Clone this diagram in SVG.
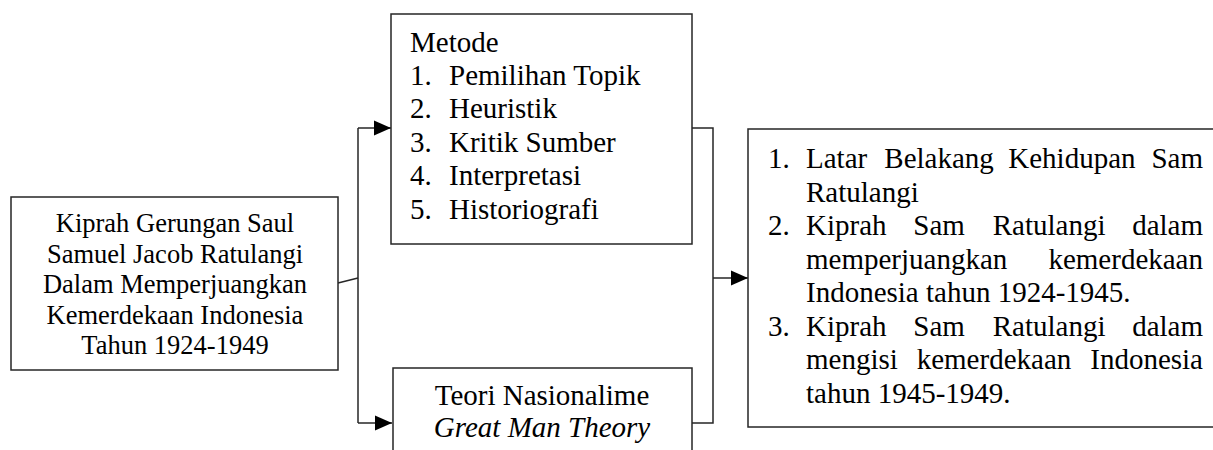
<svg xmlns="http://www.w3.org/2000/svg" width="1213" height="450" viewBox="0 0 1213 450">
<style>
.box{fill:#fff;stroke:#262626;stroke-width:1.5}
.ln{fill:none;stroke:#262626;stroke-width:1.5}
text{font-family:"Liberation Serif","Times New Roman",serif;fill:#000}
.s26{font-size:26.5px}
.s29{font-size:29px}
.c{text-anchor:middle}
.e{text-anchor:end}
</style>
<defs>
<marker id="arr" markerUnits="userSpaceOnUse" markerWidth="18" markerHeight="16" refX="17" refY="8" orient="auto">
<path d="M0,0.5 L17,8 L0,15.5 Z" fill="#000"/>
</marker>
</defs>
<rect width="1213" height="450" fill="#fff"/>
<g id="connectors">
<path class="ln" d="M338,283 L358,278"/>
<path class="ln" d="M358,128 L358,423"/>
<path class="ln" d="M358,128 L391,128" marker-end="url(#arr)"/>
<path class="ln" d="M358,423 L392,423" marker-end="url(#arr)"/>
<path class="ln" d="M692,128 L713,128 L713,423 L692,423"/>
<path class="ln" d="M713,278 L748,278" marker-end="url(#arr)"/>
</g>
<g id="node-topic">
<rect class="box" x="11" y="197" width="327" height="173"/>
<text class="s26 c" x="175" y="232">Kiprah Gerungan Saul</text>
<text class="s26 c" x="175" y="262.6">Samuel Jacob Ratulangi</text>
<text class="s26 c" x="175" y="293.2">Dalam Memperjuangkan</text>
<text class="s26 c" x="175" y="323.8">Kemerdekaan Indonesia</text>
<text class="s26 c" x="175" y="354.4">Tahun 1924-1949</text>
</g>
<g id="node-metode">
<rect class="box" x="391" y="14" width="301" height="230"/>
<text class="s29" x="410" y="51.5">Metode</text>
<text class="s29" x="410" y="84.9">1.</text><text class="s29" x="449" y="84.9">Pemilihan Topik</text>
<text class="s29" x="410" y="118.3">2.</text><text class="s29" x="449" y="118.3">Heuristik</text>
<text class="s29" x="410" y="151.7">3.</text><text class="s29" x="449" y="151.7">Kritik Sumber</text>
<text class="s29" x="410" y="185.1">4.</text><text class="s29" x="449" y="185.1">Interpretasi</text>
<text class="s29" x="410" y="218.5">5.</text><text class="s29" x="449" y="218.5">Historiografi</text>
</g>
<g id="node-teori">
<rect class="box" x="393" y="368" width="299" height="110"/>
<text class="s29 c" x="542" y="405">Teori Nasionalime</text>
<text class="s29 c" x="542" y="437" font-style="italic">Great Man Theory</text>
</g>
<g id="node-hasil">
<rect class="box" x="748" y="129" width="470" height="298"/>
<text class="s29" x="768" y="168.3">1.</text>
<text class="s29" x="806" y="168.3">Latar</text>
<text class="s29" x="884.3" y="168.3">Belakang</text>
<text class="s29" x="1008.3" y="168.3">Kehidupan</text>
<text class="s29 e" x="1203" y="168.3">Sam</text>
<text class="s29" x="806" y="201.8">Ratulangi</text>
<text class="s29" x="768" y="235.3">2.</text>
<text class="s29" x="806" y="235.3">Kiprah</text>
<text class="s29" x="913.3" y="235.3">Sam</text>
<text class="s29" x="992.7" y="235.3">Ratulangi</text>
<text class="s29 e" x="1203" y="235.3">dalam</text>
<text class="s29" x="806" y="268.8">memperjuangkan</text>
<text class="s29 e" x="1203" y="268.8">kemerdekaan</text>
<text class="s29" x="806" y="302.3">Indonesia tahun 1924-1945.</text>
<text class="s29" x="768" y="335.8">3.</text>
<text class="s29" x="806" y="335.8">Kiprah</text>
<text class="s29" x="913.3" y="335.8">Sam</text>
<text class="s29" x="992.7" y="335.8">Ratulangi</text>
<text class="s29 e" x="1203" y="335.8">dalam</text>
<text class="s29" x="806" y="369.3">mengisi</text>
<text class="s29" x="916.7" y="369.3">kemerdekaan</text>
<text class="s29 e" x="1203" y="369.3">Indonesia</text>
<text class="s29" x="806" y="402.8">tahun 1945-1949.</text>
</g>
</svg>
